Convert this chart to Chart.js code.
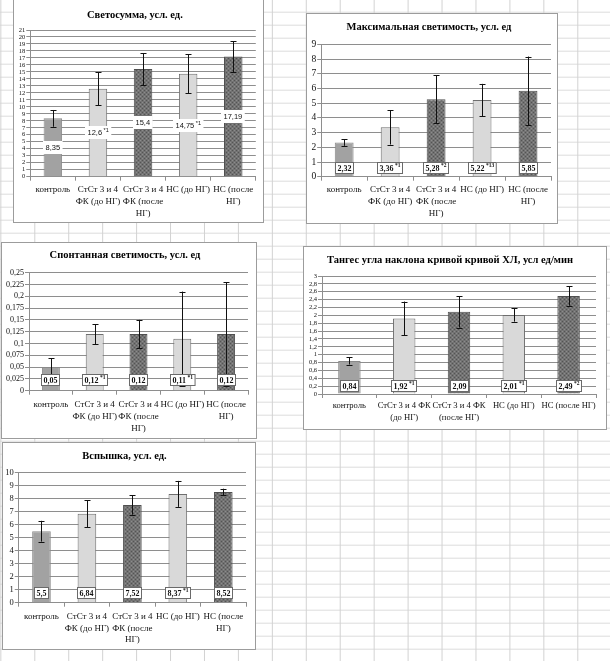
<!DOCTYPE html>
<html lang="ru">
  <head>
    <meta charset="UTF-8" />
    <title>Показатели хемилюминесценции</title>
    <script src="https://cdn.jsdelivr.net/npm/chart.js"></script>
    <style>
      * {
        margin: 0;
        padding: 0;
        box-sizing: border-box;
      }

      html,
      body {
        width: 610px;
        height: 661px;
        overflow: hidden;
        background-color: #fff;
      }

      /* spreadsheet cells behind the charts */
      body {
        position: relative;
        background-image: linear-gradient(to right, #d2d2d2 1px, transparent 1px),
          linear-gradient(to bottom, #dcdcdc 1px, transparent 1px);
        background-size: 33.95px 13px;
        background-position: 0.35px 11.7px;
      }

      .panel {
        position: absolute;
        background: #fff;
        border: 1px solid #9c9c9c;
      }

      .panel canvas {
        position: absolute;
        left: 0;
        top: 0;
      }
    </style>
  </head>
  <body>
    <div class="panel" style="left: 13px; top: -1px; width: 251px; height: 224px">
      <canvas id="sumChart" width="249" height="222"></canvas>
    </div>
    <div class="panel" style="left: 306px; top: 13px; width: 252px; height: 211px">
      <canvas id="maxChart" width="250" height="209"></canvas>
    </div>
    <div class="panel" style="left: 1px; top: 242px; width: 256px; height: 197px">
      <canvas id="spChart" width="254" height="195"></canvas>
    </div>
    <div class="panel" style="left: 303px; top: 246px; width: 304px; height: 184px">
      <canvas id="tgChart" width="302" height="182"></canvas>
    </div>
    <div class="panel" style="left: 2px; top: 442px; width: 254px; height: 208px">
      <canvas id="flChart" width="252" height="206"></canvas>
    </div>

    <script>
      // categories
      const groupsNarrow = [
        ["контроль"],
        ["СтСт 3 и 4", "ФК (до НГ)"],
        ["СтСт 3 и 4", "ФК (после", "НГ)"],
        ["НС (до НГ)"],
        ["НС (после", "НГ)"],
      ];
      const groupsWide = [
        ["контроль"],
        ["СтСт 3 и 4 ФК", "(до НГ)"],
        ["СтСт 3 и 4 ФК", "(после НГ)"],
        ["НС (до НГ)"],
        ["НС (после НГ)"],
      ];

      // Светосумма
      const sumValues = [8.35, 12.6, 15.4, 14.75, 17.19];
      const sumErrors = [1.2, 2.35, 2.3, 2.8, 2.2];
      const sumLabels = ["8,35", "12,6", "15,4", "14,75", "17,19"];
      const sumMarks = ["", "*1", "", "*1", ""];
      const sumTicks = ["0", "1", "2", "3", "4", "5", "6", "7", "8", "9", "10",
        "11", "12", "13", "14", "15", "16", "17", "18", "19", "20", "21"];

      // Максимальная светимость
      const maxValues = [2.32, 3.36, 5.28, 5.22, 5.85];
      const maxErrors = [0.22, 1.17, 1.63, 1.1, 2.33];
      const maxLabels = ["2,32", "3,36", "5,28", "5,22", "5,85"];
      const maxMarks = ["", "*1", "*2", "*13", ""];
      const maxTicks = ["0", "1", "2", "3", "4", "5", "6", "7", "8", "9"];

      // Спонтанная светимость
      const spValues = [0.05, 0.12, 0.12, 0.11, 0.12];
      const spErrors = [0.019, 0.021, 0.03, 0.1, 0.11];
      const spLabels = ["0,05", "0,12", "0,12", "0,11", "0,12"];
      const spMarks = ["", "*1", "", "*1", ""];
      const spTicks = ["0", "0,025", "0,05", "0,075", "0,1", "0,125", "0,15",
        "0,175", "0,2", "0,225", "0,25"];

      // Тангес угла наклона
      const tgValues = [0.84, 1.92, 2.09, 2.01, 2.49];
      const tgErrors = [0.09, 0.43, 0.4, 0.17, 0.245];
      const tgLabels = ["0,84", "1,92", "2,09", "2,01", "2,49"];
      const tgMarks = ["", "*1", "", "*1", "*2"];
      const tgTicks = ["0", "0,2", "0,4", "0,6", "0,8", "1", "1,2", "1,4", "1,6",
        "1,8", "2", "2,2", "2,4", "2,6", "2,8", "3"];

      // Вспышка
      const flValues = [5.5, 6.84, 7.52, 8.37, 8.52];
      const flErrors = [0.8, 1.03, 0.75, 1.0, 0.25];
      const flLabels = ["5,5", "6,84", "7,52", "8,37", "8,52"];
      const flMarks = ["", "", "", "*1", ""];
      const flTicks = ["0", "1", "2", "3", "4", "5", "6", "7", "8", "9", "10"];

      const SERIF = '"Liberation Serif", "Times New Roman", serif';
      const SANS = '"Liberation Sans", Arial, sans-serif';
      const GRID = "#8e8e8e";

      function dotPattern() {
        const c = document.createElement("canvas");
        c.width = 4;
        c.height = 4;
        const g = c.getContext("2d");
        g.fillStyle = "#727272";
        g.fillRect(0, 0, 4, 4);
        g.fillStyle = "#545454";
        g.fillRect(0, 0, 1, 1);
        g.fillRect(2, 2, 1, 1);
        g.fillStyle = "#8c8c8c";
        g.fillRect(2, 0, 1, 1);
        g.fillRect(0, 2, 1, 1);
        return g.createPattern(c, "repeat");
      }

      // error bars + value boxes
      const barExtras = {
        id: "barExtras",
        afterDatasetsDraw(chart, args, opts) {
          const ctx = chart.ctx;
          const y = chart.scales.y;
          const bars = chart.getDatasetMeta(0).data;
          const values = chart.data.datasets[0].data;
          ctx.save();

          ctx.strokeStyle = "#111";
          ctx.lineWidth = 1;
          bars.forEach((bar, i) => {
            const x = Math.round(bar.x) + 0.5;
            const top = y.getPixelForValue(values[i] + opts.errors[i]);
            const bot = y.getPixelForValue(values[i] - opts.errors[i]);
            ctx.beginPath();
            ctx.moveTo(x, top);
            ctx.lineTo(x, bot);
            ctx.moveTo(x - 3, Math.round(top) + 0.5);
            ctx.lineTo(x + 3, Math.round(top) + 0.5);
            ctx.moveTo(x - 3, Math.round(bot) + 0.5);
            ctx.lineTo(x + 3, Math.round(bot) + 0.5);
            ctx.stroke();
          });

          bars.forEach((bar, i) => {
            const main = opts.labels[i];
            const sup = opts.marks[i];
            const cy =
              opts.mode === "middle"
                ? y.getPixelForValue(values[i] / 2)
                : y.getPixelForValue(0) - opts.lift;
            ctx.font = opts.font;
            const w1 = ctx.measureText(main).width;
            ctx.font = opts.supFont;
            const w2 = sup ? ctx.measureText(sup).width + 1.5 : 0;
            const w = w1 + w2 + opts.padX * 2;
            const h = opts.boxH;
            const left = Math.round(bar.x - w / 2);
            const top = Math.round(cy - h / 2);
            ctx.fillStyle = "#fff";
            ctx.fillRect(left, top, w, h);
            if (opts.border) {
              ctx.strokeStyle = opts.border;
              ctx.strokeRect(left + 0.5, top + 0.5, w - 1, h - 1);
            }
            ctx.fillStyle = "#111";
            ctx.textAlign = "left";
            ctx.textBaseline = "middle";
            ctx.font = opts.font;
            ctx.fillText(main, left + opts.padX, top + h / 2 + 0.5);
            if (sup) {
              ctx.font = opts.supFont;
              ctx.fillText(sup, left + opts.padX + w1 + 1.5, top + h / 2 - 2);
            }
          });
          ctx.restore();
        },
      };

      function makeChart(cfg) {
        const canvas = document.getElementById(cfg.id);
        const W = canvas.width;
        const H = canvas.height;
        const dots = dotPattern();
        const light = "#d9d9d9";
        const lineH = cfg.catSize * cfg.catLine;

        return new Chart(canvas, {
          type: "bar",
          data: {
            labels: cfg.categories,
            datasets: [
              {
                data: cfg.values,
                backgroundColor: ["#a2a2a2", light, dots, light, dots],
                borderColor: ["#8a8a8a", "#6e6e6e", "#505050", "#6e6e6e", "#505050"],
                borderWidth: 1,
                barPercentage: 0.41,
                categoryPercentage: 1,
              },
            ],
          },
          options: {
            responsive: false,
            animation: false,
            events: [],
            layout: {
              padding: { left: 0, right: W - cfg.plot.right, top: 0, bottom: 0 },
            },
            plugins: {
              legend: { display: false },
              tooltip: { enabled: false },
              title: {
                display: true,
                text: cfg.title,
                color: "#000",
                font: { family: SERIF, size: 10.5, weight: "bold", lineHeight: 1.2 },
                padding: {
                  top: cfg.titleY - 6.3,
                  bottom: cfg.plot.top - cfg.titleY - 6.3,
                },
              },
              barExtras: {
                errors: cfg.errors,
                labels: cfg.labels,
                marks: cfg.marks,
                mode: cfg.labelMode,
                lift: cfg.lift || 0,
                font: cfg.labelFont,
                supFont: cfg.supFont,
                padX: cfg.padX,
                boxH: cfg.boxH,
                border: cfg.boxBorder,
              },
            },
            scales: {
              x: {
                grid: {
                  offset: true,
                  drawOnChartArea: false,
                  drawTicks: true,
                  tickLength: 4,
                  color: GRID,
                },
                border: { color: GRID },
                ticks: {
                  color: "#111",
                  autoSkip: false,
                  maxRotation: 0,
                  padding: cfg.catGap - 4 - lineH / 2,
                  font: { family: SERIF, size: cfg.catSize, lineHeight: cfg.catLine },
                },
                afterFit: (s) => {
                  s.height = H - cfg.plot.bottom;
                },
              },
              y: {
                min: 0,
                max: cfg.max,
                grid: { color: GRID, tickLength: 4 },
                border: { color: GRID },
                ticks: {
                  stepSize: cfg.step,
                  autoSkip: false,
                  color: "#111",
                  padding: 1,
                  font: { family: SERIF, size: cfg.tickSize },
                  callback: (v, i) => cfg.ticks[i],
                },
                afterFit: (s) => {
                  s.width = cfg.plot.left;
                },
              },
            },
          },
          plugins: [barExtras],
        });
      }

      makeChart({
        id: "sumChart",
        title: "Светосумма, усл. ед.",
        titleY: 15,
        categories: groupsNarrow,
        values: sumValues,
        errors: sumErrors,
        labels: sumLabels,
        marks: sumMarks,
        ticks: sumTicks,
        max: 21,
        step: 1,
        plot: { left: 16.3, right: 241.8, top: 30, bottom: 176.7 },
        tickSize: 6.5,
        catSize: 9,
        catLine: 1.3,
        catGap: 13.3,
        labelMode: "middle",
        labelFont: "7.5px " + SANS,
        supFont: "5.5px " + SANS,
        padX: 2.5,
        boxH: 13,
        boxBorder: null,
      });

      makeChart({
        id: "maxChart",
        title: "Максимальная светимость, усл. ед",
        titleY: 13,
        categories: groupsNarrow,
        values: maxValues,
        errors: maxErrors,
        labels: maxLabels,
        marks: maxMarks,
        ticks: maxTicks,
        max: 9,
        step: 1,
        plot: { left: 14.2, right: 244, top: 30.5, bottom: 162.7 },
        tickSize: 9.5,
        catSize: 9,
        catLine: 1.3,
        catGap: 13.3,
        labelMode: "base",
        lift: 9.2,
        labelFont: "bold 8px " + SERIF,
        supFont: "bold 5.5px " + SERIF,
        padX: 2.5,
        boxH: 12,
        boxBorder: "#6a6a6a",
      });

      makeChart({
        id: "spChart",
        title: "Спонтанная светимость, усл. ед",
        titleY: 12,
        categories: groupsNarrow,
        values: spValues,
        errors: spErrors,
        labels: spLabels,
        marks: spMarks,
        ticks: spTicks,
        max: 0.25,
        step: 0.025,
        plot: { left: 27, right: 246, top: 29.7, bottom: 147.7 },
        tickSize: 8,
        catSize: 9,
        catLine: 1.3,
        catGap: 14.3,
        labelMode: "base",
        lift: 10.5,
        labelFont: "bold 8px " + SERIF,
        supFont: "bold 5.5px " + SERIF,
        padX: 2.5,
        boxH: 12,
        boxBorder: "#6a6a6a",
      });

      makeChart({
        id: "tgChart",
        title: "Тангес угла наклона кривой кривой ХЛ, усл ед/мин",
        titleY: 13,
        categories: groupsWide,
        values: tgValues,
        errors: tgErrors,
        labels: tgLabels,
        marks: tgMarks,
        ticks: tgTicks,
        max: 3,
        step: 0.2,
        plot: { left: 18, right: 292, top: 29, bottom: 147 },
        tickSize: 6.5,
        catSize: 8.6,
        catLine: 1.45,
        catGap: 11.7,
        labelMode: "base",
        lift: 8.2,
        labelFont: "bold 8px " + SERIF,
        supFont: "bold 5.5px " + SERIF,
        padX: 2.5,
        boxH: 12,
        boxBorder: "#6a6a6a",
      });

      makeChart({
        id: "flChart",
        title: "Вспышка, усл. ед.",
        titleY: 13.7,
        categories: groupsNarrow,
        values: flValues,
        errors: flErrors,
        labels: flLabels,
        marks: flMarks,
        ticks: flTicks,
        max: 10,
        step: 1,
        plot: { left: 15.75, right: 243, top: 29.7, bottom: 159.7 },
        tickSize: 8.5,
        catSize: 9,
        catLine: 1.3,
        catGap: 14,
        labelMode: "base",
        lift: 9.7,
        labelFont: "bold 8px " + SERIF,
        supFont: "bold 5.5px " + SERIF,
        padX: 2.5,
        boxH: 12,
        boxBorder: "#6a6a6a",
      });
    </script>
  </body>
</html>
